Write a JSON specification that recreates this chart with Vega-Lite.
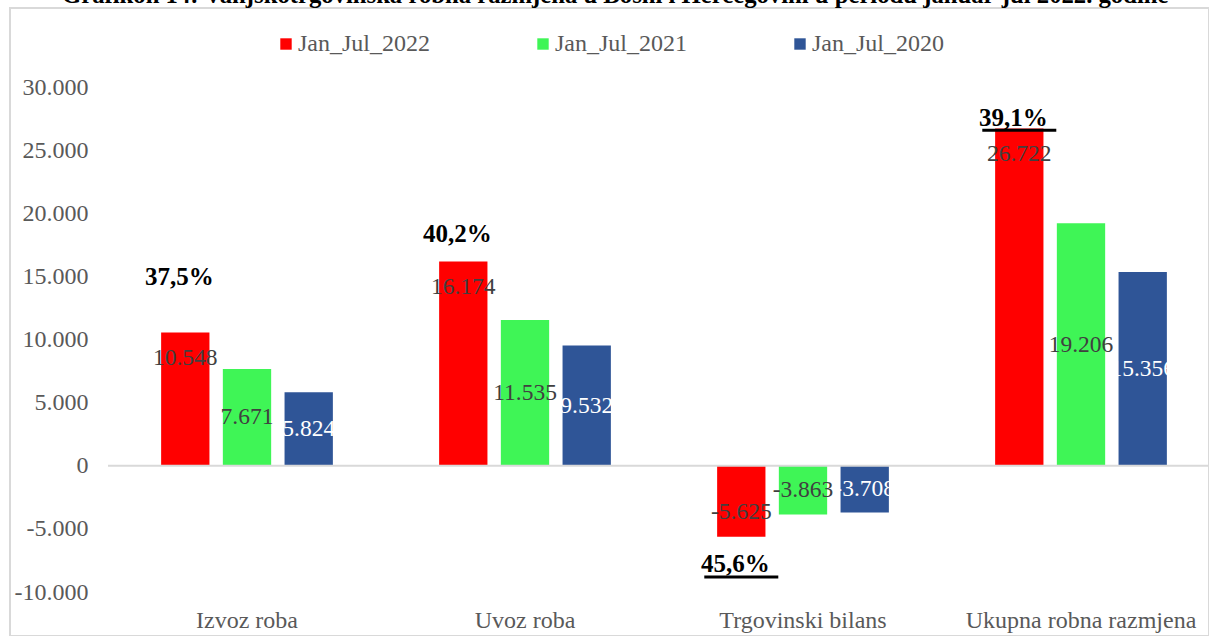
{
  "$schema": "https://vega.github.io/schema/vega-lite/v6.json",
  "width": 1199,
  "height": 628,
  "autosize": "none",
  "padding": {"left": 10, "top": 8, "right": 0, "bottom": 0},
  "background": "white",
  "config": {
    "view": {"stroke": "#D9D9D9", "strokeWidth": 2},
    "font": "Liberation Serif",
    "axis": {"labelFont": "Liberation Serif", "titleFont": "Liberation Serif"},
    "text": {"font": "Liberation Serif"},
    "title": {"font": "Liberation Serif"},
    "locale": {"number": {"decimal": ",", "thousands": ".", "grouping": [3], "currency": ["", ""], "minus": "-", "percent": "%"}},
    "legend": {"orient": "none", "legendX": 264, "legendY": 24, "direction": "horizontal", "padding": 0, "labelFont": "Liberation Serif", "titleFont": "Liberation Serif"}
  },
  "title": {
    "text": "Grafikon 14: Vanjskotrgovinska robna razmjena u Bosni i Hercegovini u periodu januar-jul 2022. godine",
    "font": "Liberation Serif",
    "fontSize": 24.7,
    "fontWeight": "bold",
    "color": "#000000",
    "anchor": "start",
    "frame": "group",
    "baseline": "alphabetic",
    "dx": 52,
    "offset": 0,
    "dy": 20
  },
  "datasets": {
    "bars": [
      {"category": "Izvoz roba", "series": "Jan_Jul_2022", "value": 10548},
      {"category": "Izvoz roba", "series": "Jan_Jul_2021", "value": 7671},
      {"category": "Izvoz roba", "series": "Jan_Jul_2020", "value": 5824},
      {"category": "Uvoz roba", "series": "Jan_Jul_2022", "value": 16174},
      {"category": "Uvoz roba", "series": "Jan_Jul_2021", "value": 11535},
      {"category": "Uvoz roba", "series": "Jan_Jul_2020", "value": 9532},
      {"category": "Trgovinski bilans", "series": "Jan_Jul_2022", "value": -5625},
      {"category": "Trgovinski bilans", "series": "Jan_Jul_2021", "value": -3863},
      {"category": "Trgovinski bilans", "series": "Jan_Jul_2020", "value": -3708},
      {"category": "Ukupna robna razmjena", "series": "Jan_Jul_2022", "value": 26722},
      {"category": "Ukupna robna razmjena", "series": "Jan_Jul_2021", "value": 19206},
      {"category": "Ukupna robna razmjena", "series": "Jan_Jul_2020", "value": 15356}
    ],
    "notes": [
      {"category": "Izvoz roba", "pct": 0.375, "y": 14990},
      {"category": "Uvoz roba", "pct": 0.402, "y": 18350},
      {"category": "Trgovinski bilans", "pct": 0.456, "y": -7820},
      {"category": "Ukupna robna razmjena", "pct": 0.391, "y": 27570}
    ]
  },
  "layer": [
    {
      "encoding": {
        "x": {
          "field": "category", "type": "nominal",
          "sort": ["Izvoz roba", "Uvoz roba", "Trgovinski bilans", "Ukupna robna razmjena"],
          "scale": {"range": [98, 1210], "paddingInner": 0, "paddingOuter": 0},
          "axis": {"title": null, "orient": "bottom", "offset": -9, "domain": false, "ticks": false, "tickSize": 0, "labelPadding": 0, "labelBaseline": "alphabetic", "labelFontSize": 24, "labelColor": "#595959", "labelFont": "Liberation Serif", "labelLimit": 400, "labelAngle": 0}
        }
      },
      "layer": [
        {
          "data": {"name": "bars"},
          "mark": {"type": "bar"},
          "encoding": {
            "xOffset": {"field": "series", "type": "nominal", "sort": ["Jan_Jul_2022", "Jan_Jul_2021", "Jan_Jul_2020"], "scale": {"paddingInner": 0.217, "paddingOuter": 0.861}},
            "y": {
              "field": "value", "type": "quantitative",
              "scale": {"domain": [-10000, 30000], "range": [584, 79], "nice": false, "zero": false},
              "axis": {"title": null, "orient": "left", "offset": -78, "domain": false, "ticks": false, "tickSize": 0, "labelPadding": 0, "grid": false, "values": [-10000, -5000, 0, 5000, 10000, 15000, 20000, 25000, 30000], "format": ",d", "labelFontSize": 24, "labelColor": "#595959", "labelFont": "Liberation Serif", "labelBaseline": "middle"}
            },
            "color": {
              "field": "series", "type": "nominal",
              "scale": {"domain": ["Jan_Jul_2022", "Jan_Jul_2021", "Jan_Jul_2020"], "range": ["#FF0000", "#3FF556", "#2F5597"]},
              "legend": {"title": null, "symbolType": "square", "symbolSize": 130, "symbolStrokeWidth": 0, "labelFontSize": 24, "labelColor": "#595959", "labelFont": "Liberation Serif", "labelOffset": 0, "columnPadding": 101, "labelLimit": 400}
            }
          }
        },
        {
          "data": {"name": "bars"},
          "transform": [
            {"filter": "datum.series === 'Jan_Jul_2022'"},
            {"calculate": "datum.value > 0 ? datum.value - 2000 : datum.value + 2000", "as": "pos"}
          ],
          "mark": {"type": "text", "baseline": "middle", "align": "center", "fontSize": 23.5, "font": "Liberation Serif", "color": "#404040"},
          "encoding": {
            "xOffset": {"field": "series", "type": "nominal", "sort": ["Jan_Jul_2022", "Jan_Jul_2021", "Jan_Jul_2020"]},
            "y": {"field": "pos", "type": "quantitative"},
            "text": {"field": "value", "type": "quantitative", "format": ",d"}
          }
        },
        {
          "data": {"name": "bars"},
          "transform": [
            {"filter": "datum.series !== 'Jan_Jul_2022'"},
            {"calculate": "datum.value / 2", "as": "pos"}
          ],
          "mark": {"type": "text", "baseline": "middle", "align": "center", "fontSize": 23.5, "font": "Liberation Serif"},
          "encoding": {
            "xOffset": {"field": "series", "type": "nominal", "sort": ["Jan_Jul_2022", "Jan_Jul_2021", "Jan_Jul_2020"]},
            "y": {"field": "pos", "type": "quantitative"},
            "text": {"field": "value", "type": "quantitative", "format": ",d"},
            "color": {"condition": {"test": "datum.series === 'Jan_Jul_2020'", "value": "#FFFFFF"}, "value": "#404040"}
          }
        },
        {
          "data": {"name": "notes"},
          "mark": {"type": "text", "baseline": "middle", "align": "center", "fontSize": 25, "fontWeight": "bold", "font": "Liberation Serif", "color": "#000000", "dx": -6},
          "encoding": {
            "xOffset": {"datum": "Jan_Jul_2022"},
            "y": {"field": "y", "type": "quantitative"},
            "text": {"field": "pct", "type": "quantitative", "format": ".1%"}
          }
        },
        {
          "data": {"name": "notes"},
          "transform": [{"filter": "datum.category === 'Trgovinski bilans' || datum.category === 'Ukupna robna razmjena'"}],
          "mark": {"type": "tick", "thickness": 3, "size": 74, "color": "#000000", "opacity": 1, "yOffset": 12.5},
          "encoding": {
            "xOffset": {"datum": "Jan_Jul_2022"},
            "y": {"field": "y", "type": "quantitative"}
          }
        }
      ]
    },
    {
      "data": {"values": [{}]},
      "mark": {"type": "rule", "color": "#D9D9D9", "strokeWidth": 2},
      "encoding": {
        "x": {"datum": 0, "type": "quantitative", "scale": {"domain": [0, 1], "range": [98, 1210]}, "axis": null},
        "x2": {"datum": 1},
        "y": {"datum": 0, "type": "quantitative"}
      }
    }
  ],
  "resolve": {"scale": {"x": "independent"}}
}
